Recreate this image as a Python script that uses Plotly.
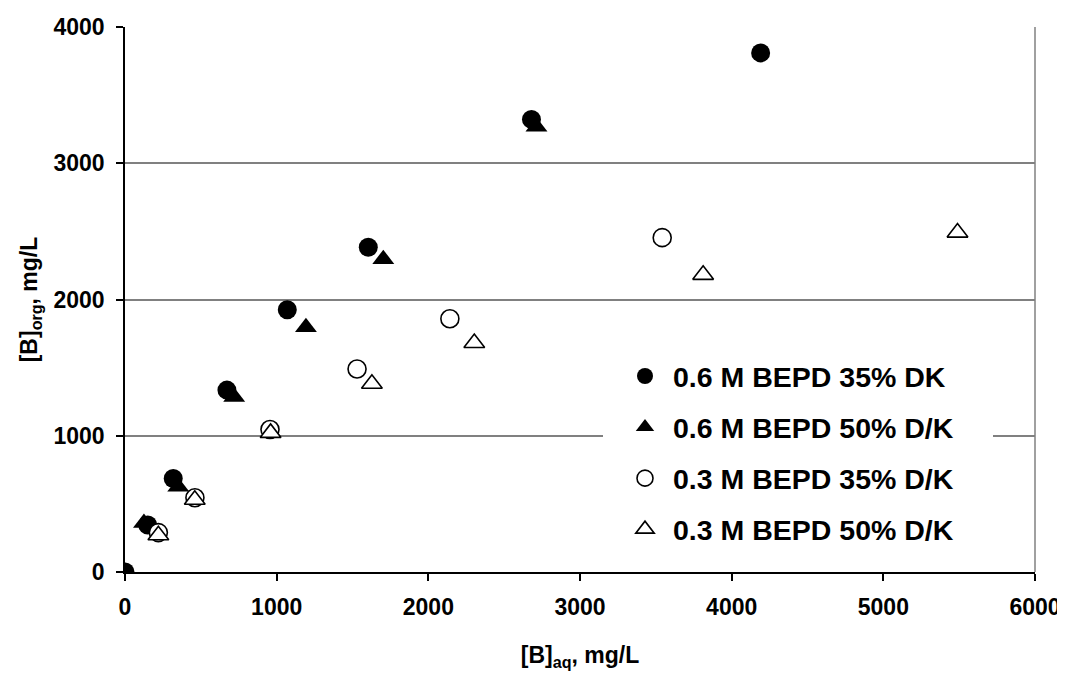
import plotly.graph_objects as go

# Data
s1_name = "0.6 M BEPD 35% DK"
s1_x = [0, 150, 318, 672, 1070, 1604, 2680, 4191]
s1_y = [0, 345, 686, 1335, 1925, 2384, 3322, 3810]

s2_name = "0.6 M BEPD 50% D/K"
s2_x = [0, 125, 351, 720, 1193, 1703, 2713]
s2_y = [0, 360, 625, 1285, 1796, 2296, 3268]

s3_name = "0.3 M BEPD 35% D/K"
s3_x = [220, 461, 956, 1530, 2142, 3542]
s3_y = [289, 545, 1046, 1490, 1859, 2454]

s4_name = "0.3 M BEPD 50% D/K"
s4_x = [220, 460, 960, 1628, 2303, 3812, 5489]
s4_y = [270, 530, 1021, 1382, 1681, 2181, 2491]

x_ticks = [0, 1000, 2000, 3000, 4000, 5000, 6000]
y_ticks = [0, 1000, 2000, 3000, 4000]

FONT = "Liberation Sans, Arial, sans-serif"

# page body has an 8px default margin; figure margins compensate for it
W, H = 1065, 673
L, R, T, B = 117, 38, 19, 109
pw, ph = W - L - R, H - T - B


def px_to_paper_x(px):
    return (px - 8 - L) / pw


def px_to_paper_y(py):
    return (H - B + 8 - py) / ph


fig = go.Figure()
fig.add_trace(go.Scatter(x=s1_x, y=s1_y, mode="markers", name=s1_name, legendgroup="a",
                         marker=dict(symbol="circle", size=19, color="black", line=dict(width=0))))
fig.add_trace(go.Scatter(x=s2_x, y=s2_y, mode="markers", name=s2_name, legendgroup="b",
                         marker=dict(symbol="triangle-up", size=19, color="black", line=dict(width=0))))
fig.add_trace(go.Scatter(x=s3_x, y=s3_y, mode="markers", name=s3_name, legendgroup="c",
                         marker=dict(symbol="circle", size=18, color="white", line=dict(width=1.6, color="black"))))
fig.add_trace(go.Scatter(x=s4_x, y=s4_y, mode="markers", name=s4_name, legendgroup="d",
                         marker=dict(symbol="triangle-up", size=18, color="white", line=dict(width=1.6, color="black"))))

fig.update_layout(
    width=W, height=H,
    margin=dict(l=L, r=R, t=T, b=B, autoexpand=False),
    paper_bgcolor="white", plot_bgcolor="white",
    font=dict(family=FONT, color="black", size=23),
    showlegend=True,
    legend=dict(x=px_to_paper_x(617), xanchor="left", y=px_to_paper_y(351), yanchor="top",
                bgcolor="rgba(0,0,0,0)", borderwidth=0,
                font=dict(family=FONT, size=28.5, color="black", weight="bold"),
                itemwidth=46, tracegroupgap=11),
    shapes=[
        dict(type="line", xref="paper", yref="paper", x0=1, x1=1, y0=0, y1=1,
             line=dict(color="#808080", width=1.5)),
        dict(type="rect", xref="paper", yref="paper", layer="above",
             x0=px_to_paper_x(603), x1=px_to_paper_x(993),
             y0=px_to_paper_y(560), y1=px_to_paper_y(355),
             fillcolor="white", line=dict(width=0)),
    ],
)
fig.update_xaxes(
    range=[0, 6000], tickvals=x_ticks, ticktext=[str(v) for v in x_ticks],
    showgrid=False, zeroline=False, automargin=False,
    showline=True, linecolor="black", linewidth=1.5,
    ticks="outside", ticklen=7, tickcolor="black", tickwidth=1.5, ticklabelstandoff=7,
    tickfont=dict(family=FONT, size=23, weight="bold"),
    title=dict(text="[B]<sub>aq</sub>, mg/L", font=dict(family=FONT, size=23, weight="bold"), standoff=28),
)
fig.update_yaxes(
    range=[0, 4000], tickvals=y_ticks, ticktext=[str(v) for v in y_ticks],
    showgrid=True, gridcolor="#808080", gridwidth=1.5, zeroline=False, automargin=False,
    showline=True, linecolor="black", linewidth=1.5,
    ticks="outside", ticklen=7, tickcolor="black", tickwidth=1.5, ticklabelstandoff=7,
    tickfont=dict(family=FONT, size=23, weight="bold"),
    title=dict(text="[B]<sub>org</sub>, mg/L", font=dict(family=FONT, size=23, weight="bold"), standoff=9),
)

fig.write_html("out.html")
